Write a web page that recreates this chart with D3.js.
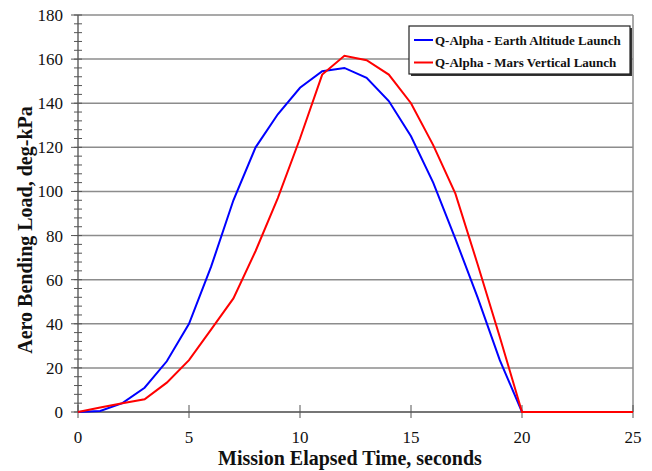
<!DOCTYPE html>
<html lang="en">
<head>
<meta charset="UTF-8">
<title>Aero Bending Load</title>
<script src="https://d3js.org/d3.v7.min.js"></script>
<style>
  *{padding:0; margin:0; box-sizing:border-box;}
  body{background:#fff;}
  text{font-family:"Liberation Serif","Times New Roman",serif; fill:#111;}
</style>
</head>
<body>
<script>
// data, one value per second
const times = d3.range(0, 26);
const earthLoad = [0, 0.5, 4, 11, 23, 40, 66, 96, 120, 135, 147, 154.5, 156, 151.5, 141, 125, 104, 78.5, 52, 23.5, 0, 0, 0, 0, 0, 0];
const marsLoad  = [0, 2, 4, 5.8, 13.3, 23.5, 37.5, 51.5, 73, 97, 124, 153, 161.5, 159.5, 153, 140, 121, 99, 67, 34, 0, 0, 0, 0, 0, 0];
const seriesNames = ["Q-Alpha - Earth Altitude Launch", "Q-Alpha - Mars Vertical Launch"];
const seriesColors = ["#0000ff", "#ff0000"];
const xTicks = [0, 5, 10, 15, 20, 25];
const yTicks = d3.range(0, 181, 20);

const W = 652, H = 471;
const m = {left:78, right:19, top:15, bottom:59};

let svg = d3.select('body').append('svg').attr('width', W).attr('height', H);

let x = d3.scaleLinear().domain([0, 25]).range([m.left, W - m.right]);
let y = d3.scaleLinear().domain([0, 180]).range([H - m.bottom, m.top]);

// gridlines
svg.append('g').selectAll('line').data(yTicks).enter().append('line')
   .attr('x1', x(0)).attr('x2', x(25))
   .attr('y1', d => y(d)).attr('y2', d => y(d))
   .attr('stroke', '#8c8c8c').attr('stroke-width', 1.5);

// right border
svg.append('line').attr('x1', x(25)).attr('x2', x(25)).attr('y1', y(0)).attr('y2', y(180))
   .attr('stroke', '#8c8c8c').attr('stroke-width', 1.5);

// y axis with minor ticks crossing the axis
let yAxis = svg.append('g').attr('transform', `translate(${x(0)},0)`);
yAxis.append('line').attr('y1', y(0)).attr('y2', y(180)).attr('stroke', '#666').attr('stroke-width', 1.5);
yAxis.selectAll('.minor').data(d3.range(0, 181, 4)).enter().append('line')
   .attr('x1', -4).attr('x2', 4)
   .attr('y1', d => y(d)).attr('y2', d => y(d))
   .attr('stroke', '#555').attr('stroke-width', 1);
yAxis.selectAll('.major').data(yTicks).enter().append('line')
   .attr('x1', -7).attr('x2', 0)
   .attr('y1', d => y(d)).attr('y2', d => y(d))
   .attr('stroke', '#555').attr('stroke-width', 1);
yAxis.selectAll('text').data(yTicks).enter().append('text')
   .attr('x', -15).attr('y', d => y(d)).attr('dy', '0.35em')
   .attr('text-anchor', 'end').attr('font-size', 17)
   .text(d => d);

// x axis
let xAxis = svg.append('g').attr('transform', `translate(0,${y(0)})`);
xAxis.append('line').attr('x1', x(0)).attr('x2', x(25)).attr('stroke', '#666').attr('stroke-width', 1.5);
xAxis.selectAll('line.tk').data(xTicks).enter().append('line')
   .attr('x1', d => x(d)).attr('x2', d => x(d))
   .attr('y1', -7).attr('y2', 6)
   .attr('stroke', '#555').attr('stroke-width', 1);
xAxis.selectAll('text').data(xTicks).enter().append('text')
   .attr('x', d => x(d)).attr('y', 25).attr('dy', '0.35em')
   .attr('text-anchor', 'middle').attr('font-size', 17)
   .text(d => d);

// axis titles
svg.append('text')
   .attr('x', 350).attr('y', 465)
   .attr('text-anchor', 'middle').attr('font-size', 20).attr('font-weight', 'bold')
   .text('Mission Elapsed Time, seconds');
svg.append('text')
   .attr('transform', 'translate(32,230) rotate(-90)')
   .attr('text-anchor', 'middle').attr('font-size', 20).attr('font-weight', 'bold')
   .text('Aero Bending Load, deg-kPa');

// curves
let line = d3.line().x((d, i) => x(times[i])).y(d => y(d));
[earthLoad, marsLoad].forEach((s, i) => {
    svg.append('path').attr('d', line(s))
       .attr('fill', 'none').attr('stroke', seriesColors[i]).attr('stroke-width', 2);
});

// legend
let lg = svg.append('g').attr('transform', 'translate(409,26)');
lg.append('rect').attr('x', 2).attr('y', 2).attr('width', 221).attr('height', 48).attr('fill', '#333');
lg.append('rect').attr('width', 221).attr('height', 48).attr('fill', '#fff').attr('stroke', '#222').attr('stroke-width', 1.2);
seriesNames.forEach((n, i) => {
    let yy = 14 + i * 22.5;
    lg.append('line').attr('x1', 5).attr('x2', 24).attr('y1', yy).attr('y2', yy)
      .attr('stroke', seriesColors[i]).attr('stroke-width', 2);
    lg.append('text').attr('x', 26).attr('y', yy).attr('dy', '0.35em')
      .attr('font-size', 13).attr('font-weight', 'bold')
      .text(n);
});
</script>
</body>
</html>
